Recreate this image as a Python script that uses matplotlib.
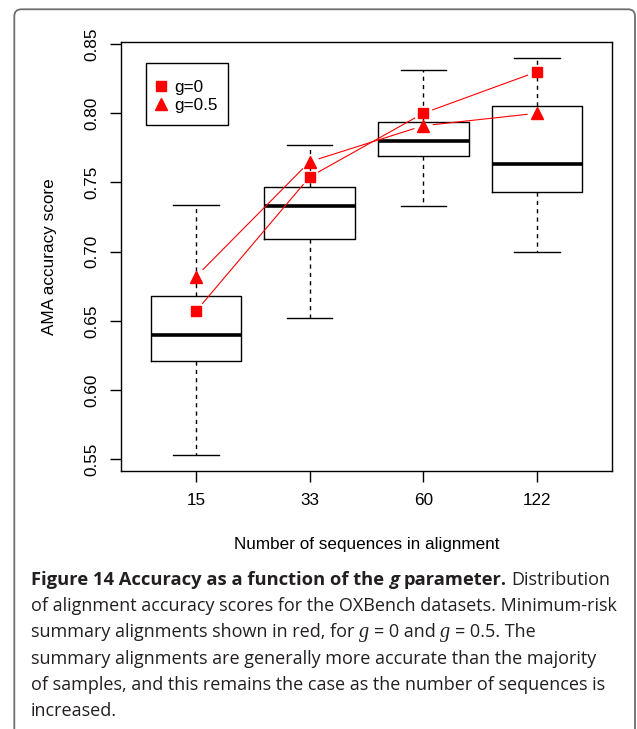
import numpy as np
import matplotlib
matplotlib.use("Agg")
import matplotlib.pyplot as plt
from matplotlib.patches import FancyBboxPatch, Rectangle
from matplotlib.font_manager import FontProperties

# values
seq_counts = ["15", "33", "60", "122"]
whisker_lo = [0.553, 0.652, 0.733, 0.700]
box_q1 = [0.621, 0.709, 0.769, 0.743]
box_med = [0.640, 0.733, 0.780, 0.763]
box_q3 = [0.668, 0.747, 0.794, 0.805]
whisker_hi = [0.734, 0.777, 0.831, 0.840]
g0_scores = [0.657, 0.754, 0.800, 0.830]
g05_scores = [0.682, 0.765, 0.791, 0.800]
y_ticks = [0.55, 0.60, 0.65, 0.70, 0.75, 0.80, 0.85]

caption_lines = [
    [("Figure 14 Accuracy as a function of the ", "bold"), ("g", "bold_it"),
     (" parameter.", "bold"), (" Distribution", "reg")],
    [("of alignment accuracy scores for the OXBench datasets. Minimum-risk", "reg")],
    [("summary alignments shown in red, for ", "reg"), ("g", "math"), (" = 0 and ", "reg"),
     ("g", "math"), (" = 0.5. The", "reg")],
    [("summary alignments are generally more accurate than the majority", "reg")],
    [("of samples, and this remains the case as the number of sequences is", "reg")],
    [("increased.", "reg")],
]

W, H = 637, 729
FS = 12.3
CAP_SIZE = 13.0
CAP_COLOR = "#231f20"


def gapped_line(ax, xs, ys, gap_px, **kw):
    # R type="b": segments stop short of the points
    pts = ax.transData.transform(np.column_stack([xs, ys]))
    inv = ax.transData.inverted()
    for p, q in zip(pts[:-1], pts[1:]):
        d = q - p
        length = np.hypot(*d)
        if length <= 2 * gap_px:
            continue
        u = d / length
        a, b = inv.transform(np.array([p + u * gap_px, q - u * gap_px]))
        ax.plot([a[0], b[0]], [a[1], b[1]], **kw)


def font_for(kind):
    if kind == "math":
        return FontProperties(family="Liberation Serif", style="italic", size=CAP_SIZE * 1.12)
    weight = "bold" if kind.startswith("bold") else "normal"
    style = "italic" if kind.endswith("_it") else "normal"
    size = CAP_SIZE * 1.02 if weight == "bold" else CAP_SIZE
    return FontProperties(family="Open Sans", weight=weight, style=style, size=size)


def advance(renderer, s, fp):
    w1, _, _ = renderer.get_text_width_height_descent("|" + s + "|", fp, ismath=False)
    w0, _, _ = renderer.get_text_width_height_descent("||", fp, ismath=False)
    return w1 - w0


def draw_caption(fig, x0, y0, spacing):
    renderer = fig.canvas.get_renderer()
    for i, runs in enumerate(caption_lines):
        x = x0
        y = y0 + i * spacing
        for text, kind in runs:
            fp = font_for(kind)
            lead = text[:len(text) - len(text.lstrip())]
            xs = x + (advance(renderer, lead, fp) if lead else 0)
            fig.text(xs / W, 1 - y / H, text.strip(), fontproperties=fp,
                     color=CAP_COLOR, ha="left", va="baseline")
            x += advance(renderer, text, fp)


def main():
    plt.rcParams["font.family"] = "Liberation Sans"
    fig = plt.figure(figsize=(W / 100, H / 100), dpi=100)
    ax = fig.add_axes([121 / W, 1 - 471 / H, 491 / W, 429 / H])

    lo, hi = min(whisker_lo), max(whisker_hi)
    pad = 0.04 * (hi - lo)
    ax.set_xlim(0.34, 4.66)
    ax.set_ylim(lo - pad, hi + pad)

    positions = np.arange(1, len(seq_counts) + 1)
    stats = [dict(med=m, q1=a, q3=b, whislo=l, whishi=h, fliers=[])
             for l, a, m, b, h in zip(whisker_lo, box_q1, box_med, box_q3, whisker_hi)]
    ax.bxp(stats, positions=positions, widths=0.8, capwidths=0.4, showfliers=False,
           boxprops=dict(color="black", lw=1.0),
           whiskerprops=dict(color="black", lw=1.0, linestyle=(0, (3, 3))),
           capprops=dict(color="black", lw=1.0),
           medianprops=dict(color="black", lw=2.6, solid_capstyle="butt"))

    gapped_line(ax, positions, g0_scores, 10, color="red", lw=0.8, zorder=4)
    gapped_line(ax, positions, g05_scores, 10, color="red", lw=0.8, zorder=4)
    ax.plot(positions, g0_scores, "s", color="red", ms=7.2, ls="none", label="g=0", zorder=5)
    ax.plot(positions, g05_scores, "^", color="red", ms=8.5, ls="none", label="g=0.5", zorder=5)

    ax.set_xlim(0.34, 4.66)
    ax.set_ylim(lo - pad, hi + pad)
    ax.set_xticks(positions, seq_counts)
    ax.set_yticks(y_ticks, [f"{v:.2f}" for v in y_ticks], rotation=90, va="center")
    ax.tick_params(direction="out", length=7.6, width=1.0, pad=8.3, labelsize=FS, colors="black")
    for sp in ax.spines.values():
        sp.set_linewidth(1.0)
        sp.set_color("black")

    ax.set_xlabel("Number of sequences in alignment", fontsize=FS)
    ax.xaxis.set_label_coords(0.5, -0.153)
    ax.set_ylabel("AMA accuracy score", fontsize=FS)
    ax.yaxis.set_label_coords(-0.13, 0.5)

    # legend entries without their own frame; the R-style box is drawn separately
    ax.legend(loc="upper left", bbox_to_anchor=(0.0635, 0.912), borderaxespad=0,
              frameon=False, fontsize=FS, handlelength=1.0, handletextpad=0.28,
              borderpad=0, labelspacing=0.18)
    ax.add_patch(Rectangle((0.0503, 0.8065), 0.167, 0.1453, transform=ax.transAxes,
                           facecolor="none", edgecolor="black", lw=1.0, zorder=6))

    # rounded panel border of the figure box
    border = FancyBboxPatch((0.143, -0.5), 6.35 - 0.143, 7.197 + 0.5,
                            boxstyle="round,pad=0,rounding_size=0.07",
                            transform=fig.dpi_scale_trans, facecolor="none",
                            edgecolor="#6d6e70", lw=1.3)
    fig.add_artist(border)

    draw_caption(fig, 31, 585, 26.2)

    fig.savefig("out.png", dpi=100)
    plt.close(fig)


if __name__ == "__main__":
    main()
